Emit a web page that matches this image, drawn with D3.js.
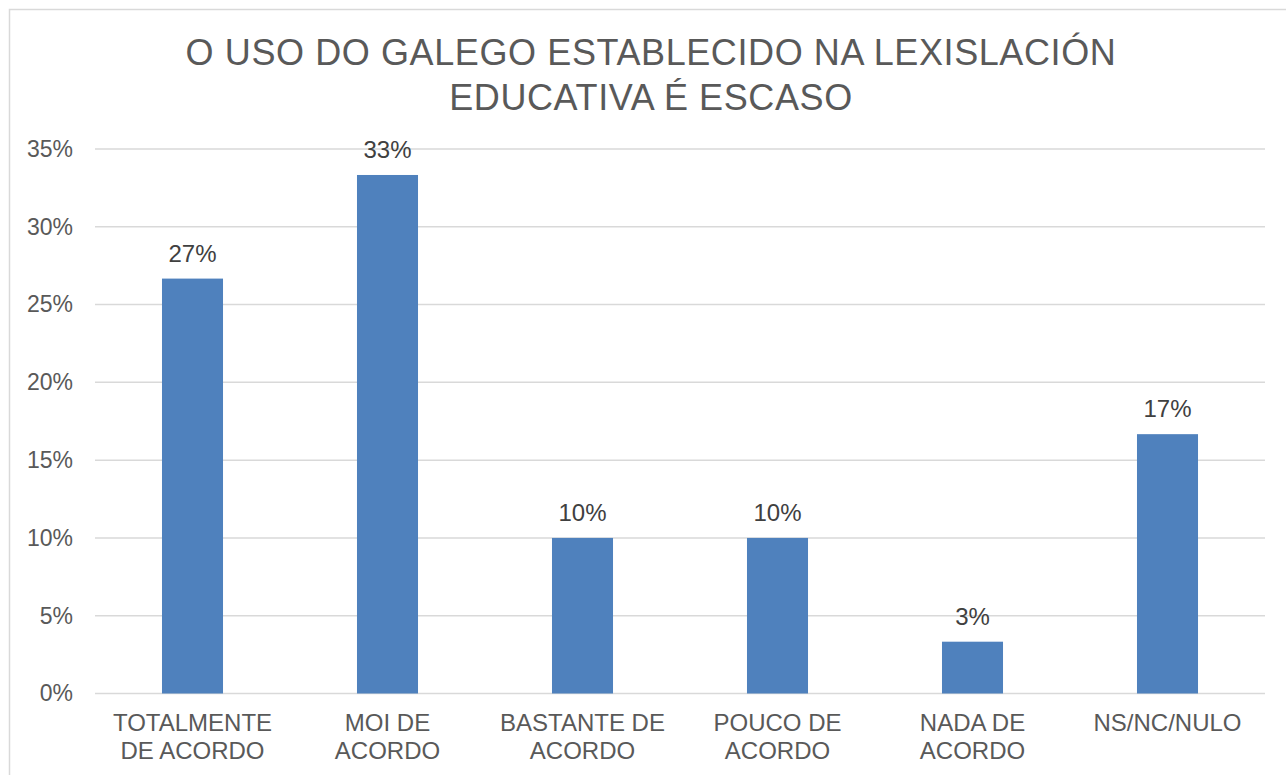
<!DOCTYPE html>
<html>
<head>
<meta charset="utf-8">
<script src="https://d3js.org/d3.v7.min.js"></script>
<style>
body { margin: 0; background: #fff; }
svg { font-family: "Liberation Sans", Arial, sans-serif; }
</style>
</head>
<body>
<svg id="root" width="1286" height="775"></svg>
<script>
let titleLines = ['O USO DO GALEGO ESTABLECIDO NA LEXISLACIÓN', 'EDUCATIVA É ESCASO']
let categories = [
	['TOTALMENTE', 'DE ACORDO'],
	['MOI DE', 'ACORDO'],
	['BASTANTE DE', 'ACORDO'],
	['POUCO DE', 'ACORDO'],
	['NADA DE', 'ACORDO'],
	['NS/NC/NULO']
]
let values = [0.2667, 0.3333, 0.10, 0.10, 0.0333, 0.1667]
let yTicks = [0, 0.05, 0.10, 0.15, 0.20, 0.25, 0.30, 0.35]

let svg = d3.select('#root')

// chart border
svg.append('rect').attr('x', 9.5).attr('y', 9.5).attr('width', 1290).attr('height', 800)
	.attr('fill', 'none').attr('stroke', '#d9d9d9').attr('stroke-width', 1.5)

let plotLeft = 95, plotRight = 1265, plotTop = 149, plotBottom = 693.5

let x = d3.scaleBand().domain(d3.range(values.length)).range([plotLeft, plotRight]).paddingInner(0.687).paddingOuter(0.3435)
let y = d3.scaleLinear().domain([0, 0.35]).range([plotBottom, plotTop])

// title
svg.append('g').selectAll('text').data(titleLines).enter().append('text')
	.attr('x', 651).attr('y', (d, i) => 65 + i * 45)
	.attr('text-anchor', 'middle').attr('font-size', 36).attr('letter-spacing', 0.6).attr('fill', '#595959')
	.text(d => d)

// gridlines
svg.append('g').selectAll('line').data(yTicks).enter().append('line')
	.attr('x1', plotLeft).attr('x2', plotRight)
	.attr('y1', d => y(d)).attr('y2', d => y(d))
	.attr('stroke', '#d9d9d9').attr('stroke-width', 1.5)

// y axis labels
let yAxis = d3.axisLeft(y).tickValues(yTicks).tickFormat(d3.format('.0%')).tickSize(0).tickPadding(22)
let ya = svg.append('g').attr('transform', 'translate(' + plotLeft + ',0)').call(yAxis)
ya.select('.domain').remove()
ya.selectAll('text').attr('font-size', 23).attr('fill', '#595959').attr('font-family', '"Liberation Sans", Arial, sans-serif')

// bars
svg.append('g').selectAll('rect').data(values).enter().append('rect')
	.attr('x', (d, i) => x(i)).attr('width', x.bandwidth())
	.attr('y', d => y(d)).attr('height', d => plotBottom - y(d))
	.attr('fill', '#4f81bd')

// data labels
svg.append('g').selectAll('text').data(values).enter().append('text')
	.attr('x', (d, i) => x(i) + x.bandwidth() / 2).attr('y', d => y(d) - 17)
	.attr('text-anchor', 'middle').attr('font-size', 24).attr('fill', '#404040')
	.text(d => d3.format('.0%')(d))

// category labels
let cat = svg.append('g').selectAll('text').data(categories).enter().append('text')
	.attr('x', (d, i) => x(i) + x.bandwidth() / 2).attr('y', 731)
	.attr('text-anchor', 'middle').attr('font-size', 24).attr('fill', '#595959')
cat.selectAll('tspan').data(d => d).enter().append('tspan')
	.attr('x', function() { return d3.select(this.parentNode).attr('x') })
	.attr('dy', (d, i) => i === 0 ? 0 : 28)
	.text(d => d)
</script>
</body>
</html>
